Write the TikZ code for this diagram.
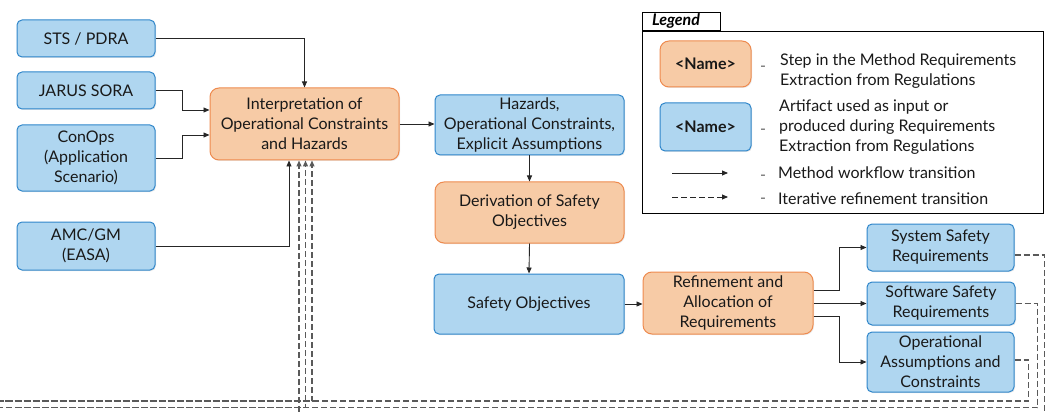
\documentclass[tikz,border=0pt]{standalone}
\usepackage{fontspec}
\setmainfont{Lato}
\usetikzlibrary{calc,arrows.meta,shadows}
\definecolor{ofill}{HTML}{F7CBA6}
\definecolor{oline}{HTML}{EE8A4E}
\definecolor{bfill}{HTML}{AFD6F0}
\definecolor{bline}{HTML}{2F86CA}
\definecolor{lnk}{HTML}{262626}
\definecolor{dsh}{HTML}{5A5A5A}
\begin{document}
\begin{tikzpicture}[x=1pt,y=-1pt,
  txt/.style={font=\fontsize{16}{20}\selectfont, align=center, text=black!90},
  base/.style={txt, inner sep=0pt, line width=1pt, drop shadow={opacity=0.18, shadow xshift=1pt, shadow yshift=-1pt}},
  art/.style={base, draw=bline, fill=bfill, rounded corners=5pt},
  stepbox/.style={base, draw=oline, fill=ofill, rounded corners=9pt},
  arr/.style={draw=lnk, line width=0.9pt, -{Triangle[length=6pt,width=5pt]}},
  itr/.style={draw=dsh, line width=1.3pt, dash pattern=on 6pt off 3pt, -{Triangle[length=6pt,width=5pt]}},
  legtxt/.style={font=\fontsize{16}{20}\selectfont, align=left, anchor=west, inner sep=0pt, text=black!90},
  dashmark/.style={font=\fontsize{16}{20}\selectfont, text=black!60, inner sep=0pt}
]
\useasboundingbox (0,0) rectangle (1051,414);
% inputs
\node[art, minimum width=138pt, minimum height=37pt] (sts) at (86,38.5) {STS / PDRA};
\node[art, minimum width=138pt, minimum height=37pt] (jarus) at (86,90.5) {JARUS SORA};
\node[art, minimum width=138pt, minimum height=66pt] (conops) at (86,158) {ConOps\\(Application\\Scenario)};
\node[art, minimum width=138pt, minimum height=48pt] (amc) at (86,246) {AMC/GM\\(EASA)};
% main chain
\node[stepbox, minimum width=189pt, minimum height=72pt] (interp) at (304.5,124) {Interpretation of\\Operational Constraints\\and Hazards};
\node[art, minimum width=189pt, minimum height=60pt] (haz) at (529.5,125) {Hazards,\\Operational Constraints,\\Explicit Assumptions};
\node[stepbox, minimum width=189pt, minimum height=61pt] (deriv) at (529.5,212.5) {Derivation of Safety\\Objectives};
\node[art, minimum width=190pt, minimum height=60pt] (safobj) at (529,304) {Safety Objectives};
\node[stepbox, minimum width=170pt, minimum height=62pt] (refine) at (728,303) {Refinement and\\Allocation of\\Requirements};
\node[art, minimum width=147pt, minimum height=47pt] (sys) at (940.5,247.5) {System Safety\\Requirements};
\node[art, minimum width=148pt, minimum height=43pt] (sw) at (941,303.5) {Software Safety\\Requirements};
\node[art, minimum width=147pt, minimum height=60pt] (ops) at (940.5,362) {Operational\\Assumptions and\\Constraints};
% connectors
\draw[arr] (sts.east) -| (interp.north);
\draw[arr] (jarus.east) -- ++(27,0) |- ($(interp.west)+(0,-14)$);
\draw[arr] (conops.east) -- ++(27,0) |- ($(interp.west)+(0,11)$);
\draw[arr] (amc.east) -| ($(interp.south)+(-15.5,0)$);
\draw[arr] (interp.east) -- (interp.east -| haz.west);
\draw[arr] (haz.south) -- (deriv.north);
\draw[arr] (deriv.south) -- (safobj.north);
\draw[arr] (safobj.east) -- (safobj.east -| refine.west);
\draw[arr] ($(refine.east)+(0,-13)$) -- ++(26,0) |- (sys.west);
\draw[arr] (refine.east |- sw.west) -- (sw.west);
\draw[arr] ($(refine.east)+(0,13)$) -- ++(26,0) |- (ops.west);
% iterative
\coordinate (c1) at ($(sys.east)+(0,7.5)$);
\coordinate (b1) at (0,416);
\coordinate (b2) at (0,407.5);
\coordinate (b3) at (0,401);
\draw[itr] (c1) -- ++(30,0) |- (b1) -| ($(interp.south)+(-5.5,0)$);
\draw[itr] (sw.east) -- ++(22,0) |- (b2) -| ($(interp.south)+(1,0)$);
\draw[itr] ($(ops.east)+(0,-2)$) -- ++(14,0) |- (b3) -| ($(interp.south)+(7.5,0)$);
% legend
\node[draw=black, line width=0.8pt, minimum width=401pt, minimum height=182pt, inner sep=0pt] (legbox) at (842.5,122) {};
\node[draw=black, line width=0.8pt, minimum width=78pt, minimum height=18pt, inner sep=0pt, font=\fontsize{16}{16}\selectfont\bfseries\itshape, anchor=south west] (legtab) at (legbox.north west) {\hspace*{-10pt}Legend};
\node[stepbox, minimum width=91pt, minimum height=46pt, font=\fontsize{16}{20}\selectfont\bfseries] (lego) at (705.5,64) {<Name>};
\node[art, minimum width=91pt, minimum height=48pt, font=\fontsize{16}{20}\selectfont\bfseries] (legb) at (705.5,127) {<Name>};
\node[dashmark] (m1) at (763,69) {-};
\node[dashmark] (m2) at (763,132) {-};
\node[dashmark] (m3) at (763,178) {-};
\node[dashmark] (m4) at (763,201) {-};
\node[legtxt] (t1) at (780,71) {Step in the Method Requirements\\Extraction from Regulations};
\node[legtxt] (t2) at (779,127) {Artifact used as input or\\produced during Requirements\\Extraction from Regulations};
\node[legtxt] (t3) at (778,173) {Method workflow transition};
\node[legtxt] (t4) at (778,199) {Iterative refinement transition};
\coordinate (la1) at (672,173);
\coordinate (la2) at (728,173);
\coordinate (lb1) at (672,197);
\coordinate (lb2) at (728,197);
\draw[arr] (la1) -- (la2);
\draw[itr, draw=lnk, line width=0.9pt] (lb1) -- (lb2);
\end{tikzpicture}
\end{document}
